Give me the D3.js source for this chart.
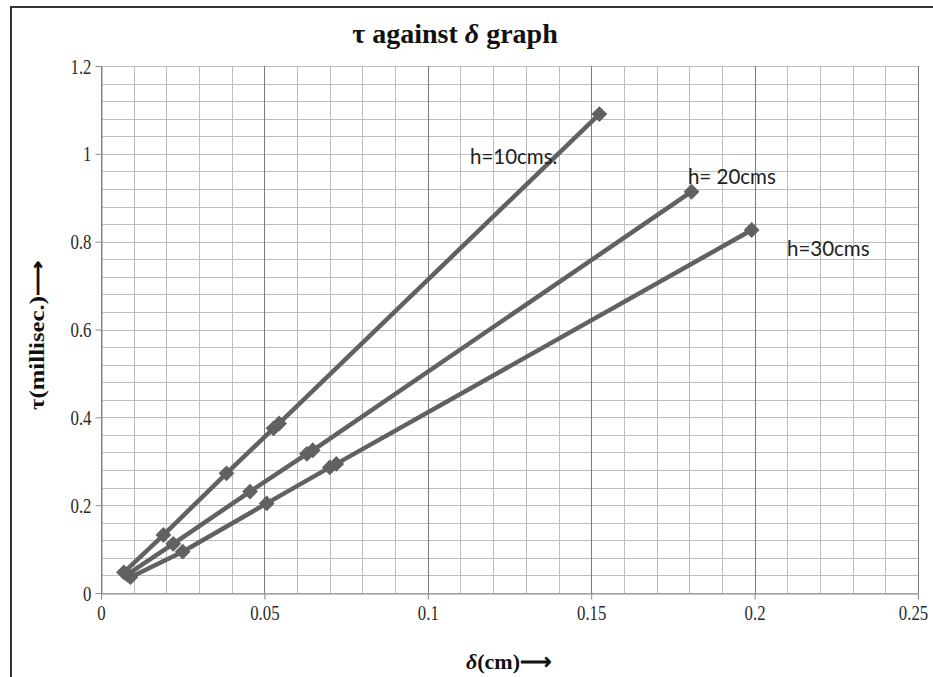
<!DOCTYPE html>
<html><head><meta charset="utf-8">
<script src="https://cdn.jsdelivr.net/npm/d3@7"></script>
<style>
html,body{margin:0;padding:0;background:#fff;}
svg{display:block;}
</style></head>
<body>
<script>
// ---- data ----
const seriesNames = ["h=10cms.", "h= 20cms", "h=30cms"];
const h10X = [0.007, 0.0191, 0.0384, 0.0528, 0.0545, 0.1525];
const h10Y = [0.047, 0.132, 0.2725, 0.375, 0.386, 1.0906];
const h20X = [0.008, 0.0221, 0.0456, 0.0630, 0.0648, 0.1807];
const h20Y = [0.042, 0.112, 0.231, 0.317, 0.325, 0.9137];
const h30X = [0.009, 0.0250, 0.0507, 0.0700, 0.0720, 0.1991];
const h30Y = [0.036, 0.094, 0.204, 0.286, 0.294, 0.8265];
const labelX = [0.1129, 0.1796, 0.2099];
const labelY = [0.977, 0.932, 0.768];
const xTicks = [0, 0.05, 0.1, 0.15, 0.2, 0.25];
const yTicks = [0, 0.2, 0.4, 0.6, 0.8, 1, 1.2];

const W = 933, H = 677;
const svg = d3.select("body").append("svg").attr("width", W).attr("height", H);
svg.append("rect").attr("width", W).attr("height", H).attr("fill", "#fff");
// outer border (left & top)
svg.append("path").attr("d", `M11,${H} L11,7 L${W},7`).attr("fill","none").attr("stroke","#333").attr("stroke-width",2);

const x = d3.scaleLinear().domain([0, 0.25]).range([101, 918]);
const y = d3.scaleLinear().domain([0, 1.2]).range([593, 66]);

const g = svg.append("g");
// minor grid
const xMinor = d3.range(0, 0.2501, 0.01);
const yMinor = d3.range(0, 1.2001, 0.04);
g.selectAll("line.ymin").data(yMinor).join("line")
  .attr("x1", x(0)).attr("x2", x(0.25))
  .attr("y1", d => Math.round(y(d)) + 0.5).attr("y2", d => Math.round(y(d)) + 0.5)
  .attr("stroke", "#bdbdbd").attr("stroke-width", 1);
g.selectAll("line.xmin").data(xMinor).join("line")
  .attr("y1", y(0)).attr("y2", y(1.2))
  .attr("x1", d => Math.round(x(d)) + 0.5).attr("x2", d => Math.round(x(d)) + 0.5)
  .attr("stroke", d => (Math.abs(d / 0.05 - Math.round(d / 0.05)) < 1e-6) ? "#7a7a7a" : "#bdbdbd")
  .attr("stroke-width", 1);

// axes
const fontSerif = "'Liberation Serif','Times New Roman',serif";
const xAxis = svg.append("g").attr("transform", `translate(0,${Math.round(y(0)) + 0.5})`)
  .call(d3.axisBottom(x).tickValues(xTicks).tickSize(6).tickSizeOuter(0).tickFormat(d => d3.format("")(+d.toFixed(2))));
const yAxis = svg.append("g").attr("transform", `translate(${Math.round(x(0)) + 0.5},0)`)
  .call(d3.axisLeft(y).tickValues(yTicks).tickSize(6).tickSizeOuter(0).tickFormat(d => d3.format("")(+d.toFixed(1))));
[xAxis, yAxis].forEach(a => {
  a.select(".domain").attr("stroke", "#888").attr("stroke-width", 1);
  a.selectAll(".tick line").attr("stroke", "#888");
  a.selectAll(".tick text").attr("font-family", fontSerif).attr("font-size", 20).attr("fill", "#2a2a2a");
});
xAxis.selectAll(".tick text").attr("y", 11).attr("dy", "0.8em")
  .attr("transform", (d, i) => i === xTicks.length - 1 ? "translate(-5,0) scale(0.84,1)" : "scale(0.84,1)");
yAxis.selectAll(".tick text").attr("x", -10).attr("dy", "0.35em")
  .attr("transform", "translate(-1.6,0) scale(0.84,1)");

// series
const series = [
  {name: seriesNames[0], xs: h10X, ys: h10Y},
  {name: seriesNames[1], xs: h20X, ys: h20Y},
  {name: seriesNames[2], xs: h30X, ys: h30Y}
];
const col = "#616161";
const line = d3.line().x(d => x(d[0])).y(d => y(d[1]));
series.forEach(s => {
  const pts = s.xs.map((v, i) => [v, s.ys[i]]);
  svg.append("path").datum(pts).attr("d", line)
    .attr("fill", "none").attr("stroke", col).attr("stroke-width", 4.5).attr("stroke-linejoin", "round");
});
const diamond = d3.symbol().type(d3.symbolSquare).size(125);
series.forEach(s => {
  const pts = s.xs.map((v, i) => [v, s.ys[i]]);
  svg.append("g").selectAll("path").data(pts).join("path")
    .attr("d", diamond)
    .attr("transform", d => `translate(${x(d[0])},${y(d[1])}) rotate(45)`)
    .attr("fill", col);
});

// series labels
svg.append("g").selectAll("text").data(seriesNames).join("text")
  .attr("x", (d, i) => x(labelX[i])).attr("y", (d, i) => y(labelY[i]))
  .attr("font-family", "Lato, 'Open Sans', sans-serif").attr("font-size", 20.5).attr("fill", "#222")
  .text(d => d);

// title
const title = svg.append("text").attr("x", 455).attr("y", 43).attr("text-anchor", "middle")
  .attr("font-family", fontSerif).attr("font-weight", "bold").attr("font-size", 28).attr("fill", "#111");
title.append("tspan").text("τ against ");
title.append("tspan").attr("font-style", "italic").text("δ");
title.append("tspan").text(" graph");

// x label
const xl = svg.append("text").attr("x", 509).attr("y", 669).attr("text-anchor", "middle")
  .attr("font-family", fontSerif).attr("font-weight", "bold").attr("font-size", 22).attr("fill", "#111");
xl.append("tspan").attr("font-style", "italic").text("δ");
xl.append("tspan").text("(cm)⟶");

// y label
svg.append("text").attr("transform", "translate(44,335) rotate(-90)").attr("text-anchor", "middle")
  .attr("font-family", fontSerif).attr("font-weight", "bold").attr("font-size", 20).attr("fill", "#111")
  .attr("textLength", 150).attr("lengthAdjust", "spacingAndGlyphs")
  .text("τ(millisec.)⟶");
</script>
</body></html>
